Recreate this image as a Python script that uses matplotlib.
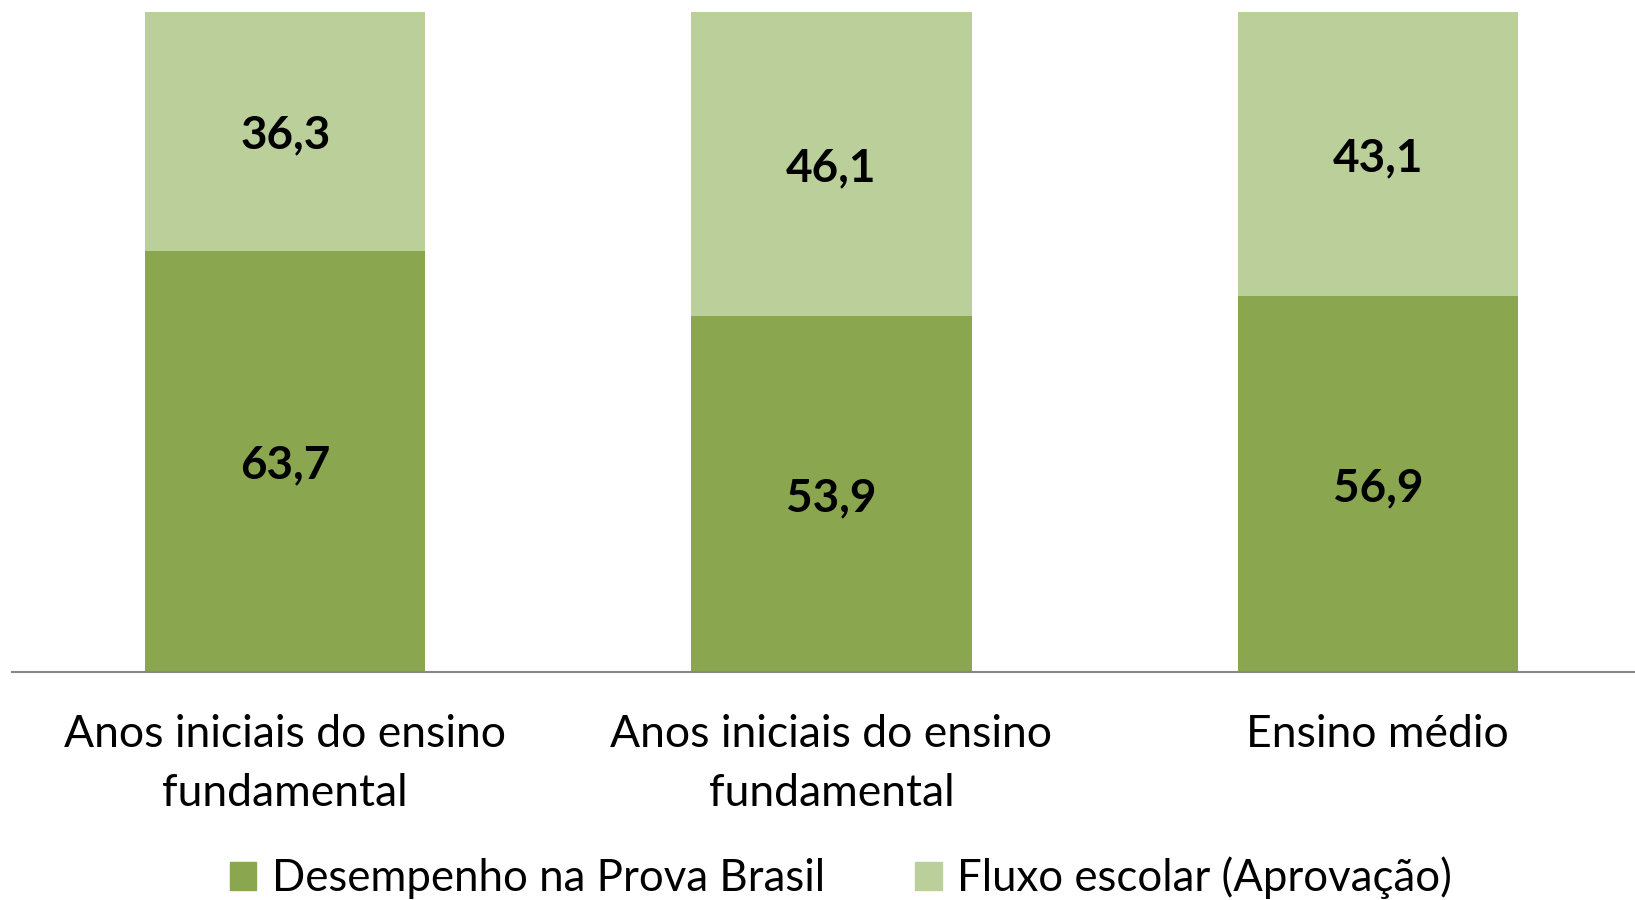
import matplotlib
matplotlib.use("Agg")
import matplotlib.pyplot as plt
from matplotlib.patches import Patch
import numpy as np

categories = ["Anos iniciais do ensino\nfundamental", "Anos iniciais do ensino\nfundamental", "Ensino médio"]
desempenho = [63.7, 53.9, 56.9]
fluxo = [36.3, 46.1, 43.1]
series_names = ["Desempenho na Prova Brasil", "Fluxo escolar (Aprovação)"]

dark = "#8AA64F"
light = "#BACF99"
FONT = "Lato"

fig = plt.figure(figsize=(16.35, 9), dpi=100)
ax = fig.add_axes([12/1635, 1-672/900, (1651-12)/1635, (672-11.5)/900])

x = np.arange(len(categories))
w = 0.513
ax.bar(x, desempenho, w, color=dark, label=series_names[0])
ax.bar(x, fluxo, w, bottom=desempenho, color=light, label=series_names[1])

def fmt(v):
    return f"{v:.1f}".replace(".", ",")

for i in range(len(x)):
    ax.annotate(fmt(desempenho[i]), (x[i], desempenho[i]/2), xytext=(0, -3),
                textcoords="offset points", ha="center", va="center",
                fontsize=33, fontweight="bold", family=FONT)
    ax.annotate(fmt(fluxo[i]), (x[i], desempenho[i] + fluxo[i]/2), xytext=(0, -3),
                textcoords="offset points", ha="center", va="center",
                fontsize=33, fontweight="bold", family=FONT)

ax.set_xlim(-0.5, 2.5)
ax.set_ylim(0, 100)
for s in ["top", "right", "left"]:
    ax.spines[s].set_visible(False)
ax.spines["bottom"].set_color("#868686")
ax.spines["bottom"].set_linewidth(1.5)
ax.set_yticks([])
ax.set_xticks(x)
ax.set_xticklabels(categories, fontsize=32, family=FONT, linespacing=1.55)
ax.tick_params(axis="x", length=0, pad=30)

handles = [Patch(color=dark), Patch(color=light)]
fig.legend(handles, series_names, loc="center", bbox_to_anchor=(841/1635, 1-878/900),
           ncol=2, frameon=False, prop={"family": FONT, "size": 31.5},
           handlelength=0.6, handleheight=0.6, handletextpad=0.35, columnspacing=2.07)

fig.savefig("out.png", dpi=100)
